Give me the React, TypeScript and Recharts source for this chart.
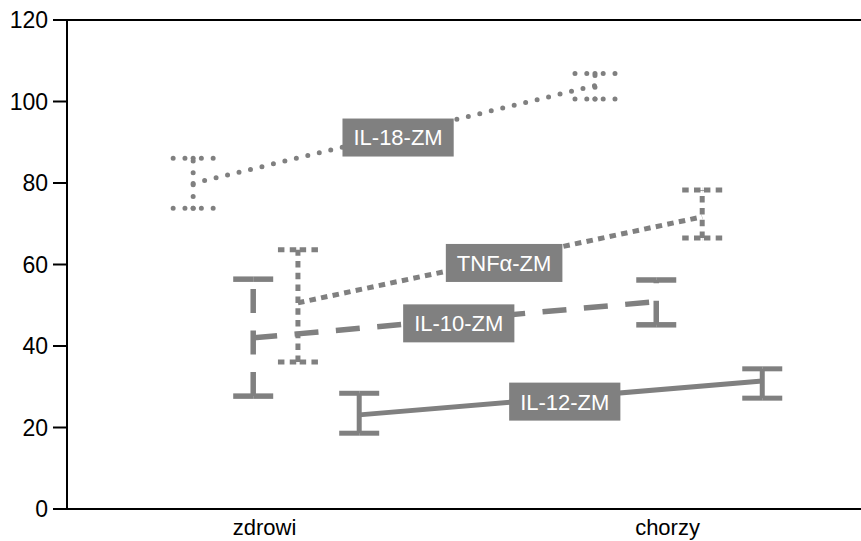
import React from 'react';
import { ComposedChart, Line, ErrorBar, XAxis, YAxis, Scatter, ReferenceLine } from 'recharts';

// Group labels on the x axis (0 = zdrowi, 1 = chorzy)
const categories = ['zdrowi', 'chorzy'];
const yTicks = [0, 20, 40, 60, 80, 100, 120];

// Each cytokine: horizontal placement (in category units), mean, lower and upper bound
const il18Pos = [-0.177, 0.82];
const il18Mean = [79.9, 103.9];
const il18Low = [73.8, 100.6];
const il18High = [86.1, 106.9];

const tnfPos = [0.083, 1.086];
const tnfMean = [50.6, 71.7];
const tnfLow = [36.1, 66.5];
const tnfHigh = [63.6, 78.3];

const il10Pos = [-0.028, 0.972];
const il10Mean = [42.0, 50.9];
const il10Low = [27.7, 45.2];
const il10High = [56.4, 56.2];

const il12Pos = [0.235, 1.235];
const il12Mean = [23.1, 31.4];
const il12Low = [18.6, 27.2];
const il12High = [28.4, 34.4];

const GREY = '#808080';
const FONT = '"Liberation Sans", Arial, sans-serif';
const CAP_HALF = 20;

type Style = { dash?: string; cap: 'round' | 'butt'; width: number };

const series: { name: string; pos: number[]; mean: number[]; low: number[]; high: number[]; style: Style }[] = [
  { name: 'IL-18-ZM', pos: il18Pos, mean: il18Mean, low: il18Low, high: il18High, style: { dash: '0 11.8', cap: 'round', width: 5 } },
  { name: 'TNFα-ZM', pos: tnfPos, mean: tnfMean, low: tnfLow, high: tnfHigh, style: { dash: '6.5 5.3', cap: 'butt', width: 5 } },
  { name: 'IL-10-ZM', pos: il10Pos, mean: il10Mean, low: il10Low, high: il10High, style: { dash: '24 17.5', cap: 'butt', width: 5.5 } },
  { name: 'IL-12-ZM', pos: il12Pos, mean: il12Mean, low: il12Low, high: il12High, style: { cap: 'butt', width: 5 } },
];

const rowsFor = (s: (typeof series)[number]) =>
  s.pos.map((x, i) => ({ x, y: s.mean[i], err: [s.mean[i] - s.low[i], s.high[i] - s.mean[i]] }));

// End caps of the whiskers, one point per bound
const capRowsFor = (s: (typeof series)[number]) =>
  s.pos.flatMap((x, i) => [
    { x, y: s.low[i] },
    { x, y: s.high[i] },
  ]);

// Name tags sit roughly halfway along each connecting line
const LABEL_AT = 0.51;
const labelRows = series.map((s) => ({
  x: s.pos[0] + LABEL_AT * (s.pos[1] - s.pos[0]),
  y: s.mean[0] + LABEL_AT * (s.mean[1] - s.mean[0]),
  label: s.name,
}));

let measureCtx: CanvasRenderingContext2D | null = null;
const textWidth = (t: string, size: number) => {
  if (!measureCtx) measureCtx = document.createElement('canvas').getContext('2d');
  if (!measureCtx) return t.length * size * 0.55;
  measureCtx.font = `${size}px ${FONT}`;
  return measureCtx.measureText(t).width;
};

// Each cap is drawn as two halves, from the outer ends towards the whisker
const Cap = ({ cx, cy, st }: any) => {
  if (cx == null || cy == null) return <g />;
  const common = {
    stroke: GREY,
    strokeWidth: st.width,
    strokeDasharray: st.dash,
    strokeLinecap: st.cap,
  };
  return (
    <g>
      <line x1={cx - CAP_HALF} y1={cy} x2={cx} y2={cy} {...common} />
      <line x1={cx + CAP_HALF} y1={cy} x2={cx} y2={cy} {...common} />
    </g>
  );
};

const LabelBox = (props: any) => {
  const { cx, cy, payload } = props;
  const size = 22;
  const w = textWidth(payload.label, size) + 22;
  const h = 38;
  const yc = cy + 4;
  return (
    <g>
      <rect x={cx - w / 2} y={yc - h / 2} width={w} height={h} fill={GREY} />
      <text x={cx} y={yc} dy="0.36em" textAnchor="middle" fill="#fff" fontSize={size} fontFamily={FONT}>
        {payload.label}
      </text>
    </g>
  );
};

export default function App() {
  return (
    <div style={{ position: 'absolute', left: 0, top: 0, background: '#fff' }}>
      <ComposedChart width={861} height={541} margin={{ top: 20, right: 0, bottom: 0, left: 0 }}>
        <XAxis
          type="number"
          dataKey="x"
          domain={[-0.49, 1.48]}
          ticks={[0, 1]}
          interval={0}
          allowDataOverflow
          tickFormatter={(v: number) => categories[Math.round(v)] ?? ''}
          axisLine={{ stroke: '#000', strokeWidth: 2 }}
          tickLine={false}
          tickMargin={4}
          height={32}
          tick={{ fill: '#000', fontSize: 22, fontFamily: FONT }}
        />
        <YAxis
          type="number"
          dataKey="y"
          domain={[0, 120]}
          ticks={yTicks}
          interval={0}
          allowDataOverflow
          width={67}
          tickSize={14}
          tickMargin={5}
          axisLine={{ stroke: '#000', strokeWidth: 2 }}
          tickLine={{ stroke: '#000', strokeWidth: 2 }}
          tick={{ fill: '#000', fontSize: 23, fontFamily: FONT }}
        />
        <ReferenceLine y={120} stroke="#000" strokeWidth={2} ifOverflow="visible" />
        {series.map((s) => (
          <Line
            key={s.name}
            data={rowsFor(s)}
            dataKey="y"
            type="linear"
            stroke={GREY}
            strokeWidth={s.style.width}
            strokeDasharray={s.style.dash}
            strokeLinecap={s.style.cap}
            dot={false}
            activeDot={false}
            isAnimationActive={false}
          >
            <ErrorBar
              dataKey="err"
              direction="y"
              width={0}
              stroke={GREY}
              strokeWidth={s.style.width}
              strokeDasharray={s.style.dash}
              strokeLinecap={s.style.cap}
              isAnimationActive={false}
            />
          </Line>
        ))}
        {series.map((s) => (
          <Scatter
            key={`cap-${s.name}`}
            data={capRowsFor(s)}
            dataKey="y"
            shape={(p: any) => <Cap {...p} st={s.style} />}
            isAnimationActive={false}
          />
        ))}
        <Scatter data={labelRows} dataKey="y" shape={LabelBox} isAnimationActive={false} />
      </ComposedChart>
    </div>
  );
}
